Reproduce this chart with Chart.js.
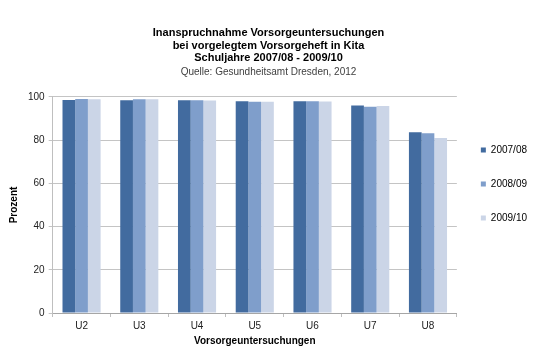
<!DOCTYPE html>
<html>
<head>
<meta charset="utf-8">
<script src="https://cdn.jsdelivr.net/npm/chart.js@4/dist/chart.umd.min.js"></script>
<style>
  html, body { margin: 0; padding: 0; background: #fff; }
  #wrap { width: 540px; height: 348px; }
</style>
</head>
<body>
<div id="wrap"><canvas id="chart" width="540" height="348"></canvas></div>
<script>
// Daten
const kategorien = ['U2', 'U3', 'U4', 'U5', 'U6', 'U7', 'U8'];
const jahre = ['2007/08', '2008/09', '2009/10'];
const werte0708 = [98.6, 98.5, 98.5, 98.0, 98.0, 96.0, 83.6];
const werte0809 = [99.1, 98.9, 98.5, 97.8, 98.0, 95.5, 83.2];
const werte0910 = [98.9, 98.9, 98.3, 97.8, 97.9, 95.8, 81.0];
const yTicks = [0, 20, 40, 60, 80, 100];

const farben = ['#426b9f', '#7f9ecb', '#cbd5e7'];
const schrift = "'Liberation Sans', Arial, sans-serif";

const serien = [werte0708, werte0809, werte0910];

const chart = new Chart(document.getElementById('chart'), {
    type: 'bar',
    data: {
        labels: kategorien,
        datasets: serien.map((werte, i) => ({
            label: jahre[i],
            data: werte,
            backgroundColor: farben[i],
            borderWidth: 0,
            categoryPercentage: 0.66,
            barPercentage: 1.0,
        }))
    },
    options: {
        responsive: false,
        animation: false,
        layout: { padding: { top: 16, left: 0, right: 3, bottom: 0 } },
        plugins: {
            title: {
                display: true,
                text: [
                    'Inanspruchnahme Vorsorgeuntersuchungen',
                    'bei vorgelegtem Vorsorgeheft in Kita',
                    'Schuljahre 2007/08 - 2009/10'
                ],
                color: '#000',
                font: { family: schrift, size: 11, weight: 'bold', lineHeight: 1.18 },
                padding: { top: 10, bottom: 0 },
            },
            subtitle: {
                display: true,
                text: 'Quelle: Gesundheitsamt Dresden, 2012',
                color: '#404040',
                font: { family: schrift, size: 10, lineHeight: 1.2 },
                padding: { top: 1, bottom: 19 },
            },
            legend: {
                position: 'right',
                align: 'start',
                // leerer Titel schiebt die Einträge nach unten
                title: {
                    display: true,
                    text: ' ',
                    font: { family: schrift, size: 10 },
                    padding: { top: 93, bottom: 0 },
                },
                labels: {
                    boxWidth: 5,
                    boxHeight: 5,
                    padding: 24,
                    color: '#000',
                    font: { family: schrift, size: 10 },
                }
            },
            tooltip: { enabled: false },
        },
        scales: {
            x: {
                grid: {
                    display: true,
                    drawOnChartArea: false,
                    offset: true,
                    tickLength: 4,
                    color: '#bfbfbf',
                },
                border: { display: true, color: '#a6a6a6' },
                ticks: {
                    color: '#222',
                    padding: 3,
                    font: { family: schrift, size: 10 },
                },
                title: {
                    display: true,
                    text: 'Vorsorgeuntersuchungen',
                    color: '#000',
                    font: { family: schrift, size: 10, weight: 'bold' },
                    padding: { top: 0, bottom: 1 },
                },
            },
            y: {
                min: 0,
                max: 100,
                afterBuildTicks: (axis) => {
                    axis.ticks = yTicks.map(v => ({ value: v }));
                },
                grid: {
                    color: '#c4c4c4',
                    tickLength: 4,
                },
                border: { display: true, color: '#bfbfbf' },
                ticks: {
                    color: '#222',
                    padding: 4,
                    font: { family: schrift, size: 10 },
                },
                title: {
                    display: true,
                    text: 'Prozent',
                    color: '#000',
                    font: { family: schrift, size: 10, weight: 'bold' },
                    padding: { top: 8, bottom: 4 },
                },
            }
        }
    }
});
</script>
</body>
</html>
